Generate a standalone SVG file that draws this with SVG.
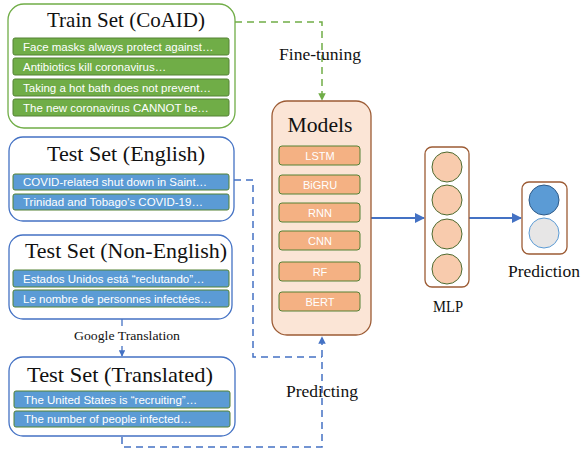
<svg xmlns="http://www.w3.org/2000/svg" width="581" height="452" viewBox="0 0 581 452">
<style>
.set{fill:#fff;stroke-width:1.3;}
.train{stroke:#70ad47;}
.test{stroke:#4472c4;}
.title{font-family:"Liberation Serif",serif;font-size:21px;fill:#111;text-anchor:middle;}
.lbl{font-family:"Liberation Serif",serif;font-size:16.5px;fill:#111;text-anchor:middle;}
.small{font-family:"Liberation Serif",serif;font-size:13px;fill:#111;text-anchor:middle;}
.gitem{fill:#70ad47;stroke:#548235;stroke-width:1;}
.bitem{fill:#5b9bd5;stroke:#548235;stroke-width:1;}
.itxt{font-family:"Liberation Sans",sans-serif;font-size:11.5px;fill:#fff;}
.mitem{fill:#f4b183;stroke:#548235;stroke-width:1;}
.mtxt{font-family:"Liberation Sans",sans-serif;font-size:11px;fill:#fff;text-anchor:middle;}
.node{fill:#f8cbad;stroke:#4e6b30;stroke-width:1;}
.brown{fill:#fff;stroke:#9c5b34;stroke-width:1.3;}
.gdash{fill:none;stroke:#70ad47;stroke-width:1.5;stroke-dasharray:7,5;}
.bdash{fill:none;stroke:#4472c4;stroke-width:1.5;stroke-dasharray:7,5;}
.bsolid{fill:none;stroke:#4472c4;stroke-width:2;}
.bthin{fill:none;stroke:#4472c4;stroke-width:1.3;}
</style>
<defs>
<marker id="ag" viewBox="0 0 10 10" refX="9" refY="5" markerWidth="5" markerHeight="5" orient="auto"><path d="M0,0 L10,5 L0,10 z" fill="#70ad47"/></marker>
<marker id="ab" viewBox="0 0 10 10" refX="9" refY="5" markerWidth="5" markerHeight="5" orient="auto"><path d="M0,0 L10,5 L0,10 z" fill="#4472c4"/></marker>
</defs>

<g id="connectors">
<path class="gdash" d="M235,22 H322 V100" marker-end="url(#ag)"/>
<path class="bdash" d="M234,180 H253 V357 H322"/>
<path class="bdash" d="M122,437 V447 H322 V337" marker-end="url(#ab)"/>
<path class="bthin" d="M122,319 V326"/>
<path class="bthin" d="M122,346 V356" marker-end="url(#ab)"/>
<path class="bsolid" d="M371,218 H424" marker-end="url(#ab)"/>
<path class="bsolid" d="M469,218 H521" marker-end="url(#ab)"/>
</g>

<g id="train">
<rect class="set train" x="8" y="4" width="227" height="124" rx="16"/>
<text class="title" x="126" y="27" textLength="158" lengthAdjust="spacingAndGlyphs">Train Set (CoAID)</text>
<rect class="gitem" x="13" y="38" width="216" height="17" rx="2"/>
<text class="itxt" x="23" y="51">Face masks always protect against…</text>
<rect class="gitem" x="13" y="58" width="216" height="17" rx="2"/>
<text class="itxt" x="23" y="71">Antibiotics kill coronavirus…</text>
<rect class="gitem" x="13" y="79" width="216" height="17" rx="2"/>
<text class="itxt" x="23" y="92">Taking a hot bath does not prevent…</text>
<rect class="gitem" x="13" y="99" width="216" height="17" rx="2"/>
<text class="itxt" x="23" y="112">The new coronavirus CANNOT be…</text>
</g>

<g id="test-english">
<rect class="set test" x="9" y="137" width="225" height="84" rx="14"/>
<text class="title" x="126" y="161" textLength="158" lengthAdjust="spacingAndGlyphs">Test Set (English)</text>
<rect class="bitem" x="13" y="174" width="216" height="16" rx="2"/>
<text class="itxt" x="23" y="186">COVID-related shut down in Saint…</text>
<rect class="bitem" x="13" y="194" width="216" height="16" rx="2"/>
<text class="itxt" x="23" y="206">Trinidad and Tobago's COVID-19…</text>
</g>

<g id="test-nonenglish">
<rect class="set test" x="9" y="235" width="223" height="84" rx="14"/>
<text class="title" x="126" y="258" textLength="202" lengthAdjust="spacingAndGlyphs">Test Set (Non-English)</text>
<rect class="bitem" x="13" y="270" width="216" height="17" rx="2"/>
<text class="itxt" x="23" y="283">Estados Unidos está “reclutando”…</text>
<rect class="bitem" x="13" y="290" width="216" height="17" rx="2"/>
<text class="itxt" x="23" y="303">Le nombre de personnes infectées…</text>
</g>

<g id="google-translation">
<text class="small" x="127" y="340" textLength="106" lengthAdjust="spacingAndGlyphs">Google Translation</text>
</g>

<g id="test-translated">
<rect class="set test" x="9" y="357" width="226" height="79" rx="14"/>
<text class="title" x="120" y="382" textLength="186" lengthAdjust="spacingAndGlyphs">Test Set (Translated)</text>
<rect class="bitem" x="14" y="391" width="216" height="17" rx="2"/>
<text class="itxt" x="24" y="404">The United States is “recruiting”…</text>
<rect class="bitem" x="14" y="411" width="216" height="16" rx="2"/>
<text class="itxt" x="24" y="423">The number of people infected…</text>
</g>

<g id="fine-tuning-label"><text class="lbl" x="320" y="60" textLength="82" lengthAdjust="spacingAndGlyphs">Fine-tuning</text></g>
<g id="predicting-label"><text class="lbl" x="322" y="397" textLength="72" lengthAdjust="spacingAndGlyphs">Predicting</text></g>

<g id="models">
<rect x="272" y="101" width="99" height="234" rx="15" fill="#fbe5d6" stroke="#9c5b34" stroke-width="1.3"/>
<text class="title" x="320" y="132" textLength="65" lengthAdjust="spacingAndGlyphs">Models</text>
<rect class="mitem" x="279" y="146" width="81" height="19" rx="3"/>
<text class="mtxt" x="320" y="160">LSTM</text>
<rect class="mitem" x="279" y="175" width="81" height="19" rx="3"/>
<text class="mtxt" x="320" y="189">BiGRU</text>
<rect class="mitem" x="279" y="203" width="81" height="19" rx="3"/>
<text class="mtxt" x="320" y="217">RNN</text>
<rect class="mitem" x="279" y="231" width="81" height="19" rx="3"/>
<text class="mtxt" x="320" y="245">CNN</text>
<rect class="mitem" x="279" y="262" width="81" height="19" rx="3"/>
<text class="mtxt" x="320" y="276">RF</text>
<rect class="mitem" x="279" y="292" width="81" height="19" rx="3"/>
<text class="mtxt" x="320" y="306">BERT</text>
</g>

<g id="mlp">
<rect class="brown" x="425" y="147" width="44" height="140" rx="7"/>
<circle class="node" cx="447" cy="167" r="15"/>
<circle class="node" cx="447" cy="200" r="15"/>
<circle class="node" cx="447" cy="234" r="15"/>
<circle class="node" cx="447" cy="269" r="15"/>
<text class="lbl" x="448" y="312" textLength="30" lengthAdjust="spacingAndGlyphs">MLP</text>
</g>

<g id="prediction">
<rect class="brown" x="522" y="182" width="45" height="72" rx="7"/>
<circle cx="544" cy="200" r="15" fill="#5b9bd5" stroke="#2e5a87" stroke-width="1"/>
<circle cx="544" cy="233" r="15" fill="#e7e6e6" stroke="#5b9bd5" stroke-width="1"/>
<text class="lbl" x="544" y="277" textLength="72" lengthAdjust="spacingAndGlyphs">Prediction</text>
</g>
</svg>
